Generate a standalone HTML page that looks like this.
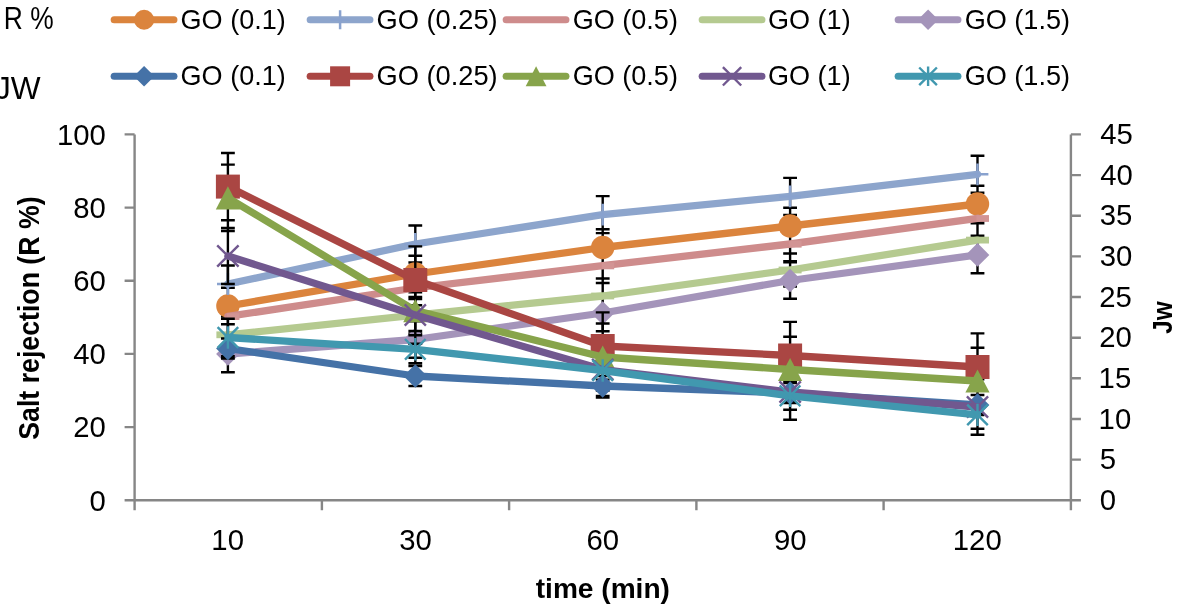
<!DOCTYPE html>
<html><head><meta charset="utf-8"><style>
html,body{margin:0;padding:0;background:#fff;width:1181px;height:607px;overflow:hidden}
svg{display:block;will-change:transform}
text{font-family:"Liberation Sans",sans-serif}
</style></head><body>
<svg width="1181" height="607" viewBox="0 0 1181 607" font-family='"Liberation Sans", sans-serif' fill="#000">
<path d="M134.6 134.4V510.3M1070.9 134.4V510.3M124.6 500.3H1080.9M124.6 500.3H134.6M124.6 427.1H134.6M124.6 353.9H134.6M124.6 280.8H134.6M124.6 207.6H134.6M124.6 134.4H134.6M1070.9 500.3H1080.9M1070.9 459.6H1080.9M1070.9 419.0H1080.9M1070.9 378.3H1080.9M1070.9 337.7H1080.9M1070.9 297.0H1080.9M1070.9 256.4H1080.9M1070.9 215.7H1080.9M1070.9 175.1H1080.9M1070.9 134.4H1080.9M321.9 500.3V510.3M509.1 500.3V510.3M696.4 500.3V510.3M883.6 500.3V510.3" stroke="#868686" stroke-width="2.4" fill="none"/>
<text x="89.56" y="510.50" font-size="29.3">0</text>
<text x="73.30" y="437.32" font-size="29.3">20</text>
<text x="73.30" y="364.14" font-size="29.3">40</text>
<text x="73.30" y="290.96" font-size="29.3">60</text>
<text x="73.30" y="217.78" font-size="29.3">80</text>
<text x="57.04" y="144.60" font-size="29.3">100</text>
<text x="1099.63" y="509.90" font-size="29.3">0</text>
<text x="1099.63" y="469.24" font-size="29.3">5</text>
<text x="1098.60" y="428.59" font-size="29.3">10</text>
<text x="1098.60" y="387.93" font-size="29.3">15</text>
<text x="1099.34" y="347.28" font-size="29.3">20</text>
<text x="1099.34" y="306.62" font-size="29.3">25</text>
<text x="1099.63" y="265.97" font-size="29.3">30</text>
<text x="1099.63" y="225.31" font-size="29.3">35</text>
<text x="1100.21" y="184.66" font-size="29.3">40</text>
<text x="1100.21" y="144.00" font-size="29.3">45</text>
<text x="211.35" y="550.10" font-size="29.3">10</text>
<text x="399.27" y="550.10" font-size="29.3">30</text>
<text x="586.52" y="550.10" font-size="29.3">60</text>
<text x="773.99" y="550.10" font-size="29.3">90</text>
<text x="952.82" y="550.10" font-size="29.3">120</text>
<text x="0" y="0" transform="translate(39.30 439.70) rotate(-90)" font-size="29.10" font-weight="bold" textLength="243.28" lengthAdjust="spacingAndGlyphs">Salt rejection (R %)</text>
<text x="0" y="0" transform="translate(1171.60 333.86) rotate(-90)" font-size="28.55" font-weight="bold" textLength="32.44" lengthAdjust="spacingAndGlyphs">Jw</text>
<text x="535.72" y="597.70" font-size="27.72" font-weight="bold" textLength="134.23" lengthAdjust="spacingAndGlyphs">time (min)</text>
<path d="M227.9 287.7V324.3M221.0 287.7H234.8M221.0 324.3H234.8M415.3 255.7V292.3M408.4 255.7H422.2M408.4 292.3H422.2M602.7 229.2V265.8M595.8 229.2H609.6M595.8 265.8H609.6M790.1 207.7V244.3M783.2 207.7H797.0M783.2 244.3H797.0M977.5 185.7V222.3M970.6 185.7H984.4M970.6 222.3H984.4M227.9 265.5V302.5M221.0 265.5H234.8M221.0 302.5H234.8M415.3 225.5V262.5M408.4 225.5H422.2M408.4 262.5H422.2M602.7 196.1V233.1M595.8 196.1H609.6M595.8 233.1H609.6M790.1 177.9V214.9M783.2 177.9H797.0M783.2 214.9H797.0M977.5 155.8V192.8M970.6 155.8H984.4M970.6 192.8H984.4M227.9 299.1V333.7M221.0 299.1H234.8M221.0 333.7H234.8M415.3 270.7V305.3M408.4 270.7H422.2M408.4 305.3H422.2M602.7 248.4V283.0M595.8 248.4H609.6M595.8 283.0H609.6M790.1 226.7V261.3M783.2 226.7H797.0M783.2 261.3H797.0M977.5 201.0V235.6M970.6 201.0H984.4M970.6 235.6H984.4M227.9 316.5V353.1M221.0 316.5H234.8M221.0 353.1H234.8M415.3 296.9V333.5M408.4 296.9H422.2M408.4 333.5H422.2M602.7 278.5V313.5M595.8 278.5H609.6M595.8 313.5H609.6M790.1 253.5V286.5M783.2 253.5H797.0M783.2 286.5H797.0M977.5 223.3V256.9M970.6 223.3H984.4M970.6 256.9H984.4M227.9 335.7V372.3M221.0 335.7H234.8M221.0 372.3H234.8M415.3 321.2V357.8M408.4 321.2H422.2M408.4 357.8H422.2M602.7 294.7V331.3M595.8 294.7H609.6M595.8 331.3H609.6M790.1 262.2V298.8M783.2 262.2H797.0M783.2 298.8H797.0M977.5 236.6V273.2M970.6 236.6H984.4M970.6 273.2H984.4" stroke="#000" stroke-width="2.4" fill="none"/>
<polyline points="227.9,306.0 415.3,274.0 602.7,247.5 790.1,226.0 977.5,204.0" fill="none" stroke="#DB843D" stroke-width="7.3" stroke-linejoin="round" stroke-linecap="round"/>
<circle cx="227.9" cy="306.0" r="11.7" fill="#DB843D"/>
<circle cx="415.3" cy="274.0" r="11.7" fill="#DB843D"/>
<circle cx="602.7" cy="247.5" r="11.7" fill="#DB843D"/>
<circle cx="790.1" cy="226.0" r="11.7" fill="#DB843D"/>
<circle cx="977.5" cy="204.0" r="11.7" fill="#DB843D"/>
<polyline points="227.9,284.0 415.3,244.0 602.7,214.6 790.1,196.4 977.5,174.3" fill="none" stroke="#8DA5CC" stroke-width="7.3" stroke-linejoin="round" stroke-linecap="round"/>
<path d="M217.0 284.0L238.8 284.0M227.9 273.1L227.9 294.9" stroke="#89A2CE" stroke-width="2.5" fill="none"/>
<path d="M404.4 244.0L426.2 244.0M415.3 233.1L415.3 254.9" stroke="#89A2CE" stroke-width="2.5" fill="none"/>
<path d="M591.8 214.6L613.6 214.6M602.7 203.7L602.7 225.5" stroke="#89A2CE" stroke-width="2.5" fill="none"/>
<path d="M779.2 196.4L801.0 196.4M790.1 185.5L790.1 207.3" stroke="#89A2CE" stroke-width="2.5" fill="none"/>
<path d="M966.6 174.3L988.4 174.3M977.5 163.4L977.5 185.2" stroke="#89A2CE" stroke-width="2.5" fill="none"/>
<polyline points="227.9,316.4 415.3,288.0 602.7,265.7 790.1,244.0 977.5,218.3" fill="none" stroke="#CE8C8C" stroke-width="7.3" stroke-linejoin="round" stroke-linecap="round"/>
<rect x="226.9" y="313.2" width="12.5" height="6.8" fill="#D29494"/>
<rect x="414.3" y="284.8" width="12.5" height="6.8" fill="#D29494"/>
<rect x="601.7" y="262.5" width="12.5" height="6.8" fill="#D29494"/>
<rect x="789.1" y="240.8" width="12.5" height="6.8" fill="#D29494"/>
<rect x="976.5" y="215.1" width="12.5" height="6.8" fill="#D29494"/>
<polyline points="227.9,334.8 415.3,315.2 602.7,296.0 790.1,270.0 977.5,240.1" fill="none" stroke="#B5CA90" stroke-width="7.3" stroke-linejoin="round" stroke-linecap="round"/>
<rect x="216.4" y="331.4" width="23.0" height="6.8" fill="#B5CA90"/>
<rect x="403.8" y="311.8" width="23.0" height="6.8" fill="#B5CA90"/>
<rect x="591.2" y="292.6" width="23.0" height="6.8" fill="#B5CA90"/>
<rect x="778.6" y="266.6" width="23.0" height="6.8" fill="#B5CA90"/>
<rect x="966.0" y="236.7" width="23.0" height="6.8" fill="#B5CA90"/>
<polyline points="227.9,354.0 415.3,339.5 602.7,313.0 790.1,280.5 977.5,254.9" fill="none" stroke="#A494BA" stroke-width="7.3" stroke-linejoin="round" stroke-linecap="round"/>
<path d="M227.9 342.2L239.7 354.0L227.9 365.8L216.1 354.0Z" fill="#A494BA"/>
<path d="M415.3 327.7L427.1 339.5L415.3 351.3L403.5 339.5Z" fill="#A494BA"/>
<path d="M602.7 301.2L614.5 313.0L602.7 324.8L590.9 313.0Z" fill="#A494BA"/>
<path d="M790.1 268.7L801.9 280.5L790.1 292.3L778.3 280.5Z" fill="#A494BA"/>
<path d="M977.5 243.1L989.3 254.9L977.5 266.7L965.7 254.9Z" fill="#A494BA"/>

<path d="M227.9 338.5V358.5M221.0 338.5H234.8M221.0 358.5H234.8M415.3 366.0V386.0M408.4 366.0H422.2M408.4 386.0H422.2M602.7 376.0V396.0M595.8 376.0H609.6M595.8 396.0H609.6M790.1 383.0V403.0M783.2 383.0H797.0M783.2 403.0H797.0M977.5 395.0V415.0M970.6 395.0H984.4M970.6 415.0H984.4M227.9 153.0V220.2M221.0 153.0H234.8M221.0 220.2H234.8M415.3 246.4V313.6M408.4 246.4H422.2M408.4 313.6H422.2M602.7 312.4V379.6M595.8 312.4H609.6M595.8 379.6H609.6M790.1 321.9V389.1M783.2 321.9H797.0M783.2 389.1H797.0M977.5 333.4V400.6M970.6 333.4H984.4M970.6 400.6H984.4M227.9 164.6V231.0M221.0 164.6H234.8M221.0 231.0H234.8M415.3 277.4V343.8M408.4 277.4H422.2M408.4 343.8H422.2M602.7 323.5V390.5M595.8 323.5H609.6M595.8 390.5H609.6M790.1 336.7V402.3M783.2 336.7H797.0M783.2 402.3H797.0M977.5 347.7V414.3M970.6 347.7H984.4M970.6 414.3H984.4M227.9 228.0V284.0M221.0 228.0H234.8M221.0 284.0H234.8M415.3 299.0V331.0M408.4 299.0H422.2M408.4 331.0H422.2M602.7 341.5V397.5M595.8 341.5H609.6M595.8 397.5H609.6M790.1 364.3V419.7M783.2 364.3H797.0M783.2 419.7H797.0M977.5 379.3V434.7M970.6 379.3H984.4M970.6 434.7H984.4M227.9 318.8V356.2M221.0 318.8H234.8M221.0 356.2H234.8M415.3 335.3V363.3M408.4 335.3H422.2M408.4 363.3H422.2M602.7 356.5V384.5M595.8 356.5H609.6M595.8 384.5H609.6M790.1 381.8V409.8M783.2 381.8H797.0M783.2 409.8H797.0M977.5 401.1V428.7M970.6 401.1H984.4M970.6 428.7H984.4" stroke="#000" stroke-width="2.4" fill="none"/>
<polyline points="227.9,348.5 415.3,376.0 602.7,386.0 790.1,393.0 977.5,405.0" fill="none" stroke="#4572A7" stroke-width="7.3" stroke-linejoin="round" stroke-linecap="round"/>
<path d="M227.9 336.7L239.7 348.5L227.9 360.3L216.1 348.5Z" fill="#4572A7"/>
<path d="M415.3 364.2L427.1 376.0L415.3 387.8L403.5 376.0Z" fill="#4572A7"/>
<path d="M602.7 374.2L614.5 386.0L602.7 397.8L590.9 386.0Z" fill="#4572A7"/>
<path d="M790.1 381.2L801.9 393.0L790.1 404.8L778.3 393.0Z" fill="#4572A7"/>
<path d="M977.5 393.2L989.3 405.0L977.5 416.8L965.7 405.0Z" fill="#4572A7"/>
<polyline points="227.9,186.6 415.3,280.0 602.7,346.0 790.1,355.5 977.5,367.0" fill="none" stroke="#AA4643" stroke-width="7.3" stroke-linejoin="round" stroke-linecap="round"/>
<rect x="215.9" y="174.6" width="24.0" height="24.0" fill="#AA4643"/>
<rect x="403.3" y="268.0" width="24.0" height="24.0" fill="#AA4643"/>
<rect x="590.7" y="334.0" width="24.0" height="24.0" fill="#AA4643"/>
<rect x="778.1" y="343.5" width="24.0" height="24.0" fill="#AA4643"/>
<rect x="965.5" y="355.0" width="24.0" height="24.0" fill="#AA4643"/>
<polyline points="227.9,197.8 415.3,310.6 602.7,357.0 790.1,369.5 977.5,381.0" fill="none" stroke="#87A44B" stroke-width="7.3" stroke-linejoin="round" stroke-linecap="round"/>
<path d="M227.9 186.2L240.0 209.4L215.8 209.4Z" fill="#87A44B"/>
<path d="M415.3 299.0L427.4 322.2L403.2 322.2Z" fill="#87A44B"/>
<path d="M602.7 345.4L614.8 368.6L590.6 368.6Z" fill="#87A44B"/>
<path d="M790.1 357.9L802.2 381.1L778.0 381.1Z" fill="#87A44B"/>
<path d="M977.5 369.4L989.6 392.6L965.4 392.6Z" fill="#87A44B"/>
<polyline points="227.9,256.0 415.3,315.0 602.7,369.5 790.1,392.0 977.5,407.0" fill="none" stroke="#71588F" stroke-width="7.3" stroke-linejoin="round" stroke-linecap="round"/>
<path d="M217.2 245.3L238.6 266.6M238.6 245.3L217.2 266.6" stroke="#71588F" stroke-width="2.4" fill="none"/>
<path d="M404.7 304.4L425.9 325.6M425.9 304.4L404.7 325.6" stroke="#71588F" stroke-width="2.4" fill="none"/>
<path d="M592.1 358.9L613.4 380.1M613.4 358.9L592.1 380.1" stroke="#71588F" stroke-width="2.4" fill="none"/>
<path d="M779.5 381.4L800.8 402.6M800.8 381.4L779.5 402.6" stroke="#71588F" stroke-width="2.4" fill="none"/>
<path d="M966.9 396.4L988.1 417.6M988.1 396.4L966.9 417.6" stroke="#71588F" stroke-width="2.4" fill="none"/>
<polyline points="227.9,337.5 415.3,349.3 602.7,370.5 790.1,395.8 977.5,414.9" fill="none" stroke="#4198AF" stroke-width="7.3" stroke-linejoin="round" stroke-linecap="round"/>
<path d="M217.6 327.2L238.2 347.8M238.2 327.2L217.6 347.8M227.9 326.3L227.9 348.7" stroke="#4198AF" stroke-width="2.4" fill="none"/>
<path d="M405.0 339.0L425.6 359.6M425.6 339.0L405.0 359.6M415.3 338.1L415.3 360.5" stroke="#4198AF" stroke-width="2.4" fill="none"/>
<path d="M592.4 360.2L613.0 380.8M613.0 360.2L592.4 380.8M602.7 359.3L602.7 381.7" stroke="#4198AF" stroke-width="2.4" fill="none"/>
<path d="M779.8 385.5L800.4 406.1M800.4 385.5L779.8 406.1M790.1 384.6L790.1 407.0" stroke="#4198AF" stroke-width="2.4" fill="none"/>
<path d="M967.2 404.6L987.8 425.2M987.8 404.6L967.2 425.2M977.5 403.7L977.5 426.1" stroke="#4198AF" stroke-width="2.4" fill="none"/>

<line x1="114.2" y1="19.7" x2="173.9" y2="19.7" stroke="#DB843D" stroke-width="7.1" stroke-linecap="round"/>
<circle cx="144.1" cy="19.7" r="10.0" fill="#DB843D"/>
<text x="180.55" y="28.80" font-size="27.31" textLength="105.20" lengthAdjust="spacingAndGlyphs">GO (0.1)</text>
<line x1="310.2" y1="19.7" x2="369.9" y2="19.7" stroke="#8DA5CC" stroke-width="7.1" stroke-linecap="round"/>
<path d="M330.6 19.7L349.6 19.7M340.1 10.2L340.1 29.2" stroke="#89A2CE" stroke-width="2.5" fill="none"/>
<text x="376.44" y="28.80" font-size="27.31" textLength="121.22" lengthAdjust="spacingAndGlyphs">GO (0.25)</text>
<line x1="506.2" y1="19.7" x2="565.9" y2="19.7" stroke="#CE8C8C" stroke-width="7.1" stroke-linecap="round"/>
<text x="572.65" y="28.80" font-size="27.31" textLength="105.30" lengthAdjust="spacingAndGlyphs">GO (0.5)</text>
<line x1="702.2" y1="19.7" x2="761.9" y2="19.7" stroke="#B5CA90" stroke-width="7.1" stroke-linecap="round"/>
<text x="768.05" y="28.80" font-size="27.31" textLength="82.59" lengthAdjust="spacingAndGlyphs">GO (1)</text>
<line x1="898.2" y1="19.7" x2="957.9" y2="19.7" stroke="#A494BA" stroke-width="7.1" stroke-linecap="round"/>
<path d="M928.1 9.4L938.4 19.7L928.1 30.0L917.8 19.7Z" fill="#A494BA"/>
<text x="964.65" y="28.80" font-size="27.31" textLength="105.41" lengthAdjust="spacingAndGlyphs">GO (1.5)</text>
<line x1="114.2" y1="76.3" x2="173.9" y2="76.3" stroke="#4572A7" stroke-width="7.1" stroke-linecap="round"/>
<path d="M144.1 66.0L154.4 76.3L144.1 86.6L133.8 76.3Z" fill="#4572A7"/>
<text x="180.55" y="84.80" font-size="27.31" textLength="105.20" lengthAdjust="spacingAndGlyphs">GO (0.1)</text>
<line x1="310.2" y1="76.3" x2="369.9" y2="76.3" stroke="#AA4643" stroke-width="7.1" stroke-linecap="round"/>
<rect x="330.1" y="66.3" width="20.0" height="20.0" fill="#AA4643"/>
<text x="376.44" y="84.80" font-size="27.31" textLength="121.22" lengthAdjust="spacingAndGlyphs">GO (0.25)</text>
<line x1="506.2" y1="76.3" x2="565.9" y2="76.3" stroke="#87A44B" stroke-width="7.1" stroke-linecap="round"/>
<path d="M536.1 66.3L546.5 86.3L525.7 86.3Z" fill="#87A44B"/>
<text x="572.65" y="84.80" font-size="27.31" textLength="105.30" lengthAdjust="spacingAndGlyphs">GO (0.5)</text>
<line x1="702.2" y1="76.3" x2="761.9" y2="76.3" stroke="#71588F" stroke-width="7.1" stroke-linecap="round"/>
<path d="M722.9 67.1L741.2 85.5M741.2 67.1L722.9 85.5" stroke="#71588F" stroke-width="2.4" fill="none"/>
<text x="768.05" y="84.80" font-size="27.31" textLength="82.59" lengthAdjust="spacingAndGlyphs">GO (1)</text>
<line x1="898.2" y1="76.3" x2="957.9" y2="76.3" stroke="#4198AF" stroke-width="7.1" stroke-linecap="round"/>
<path d="M919.2 67.5L936.9 85.1M936.9 67.5L919.2 85.1M928.1 66.6L928.1 86.0" stroke="#4198AF" stroke-width="2.4" fill="none"/>
<text x="964.65" y="84.80" font-size="27.31" textLength="105.41" lengthAdjust="spacingAndGlyphs">GO (1.5)</text>
<text x="3.79" y="28.70" font-size="30.86" textLength="49.81" lengthAdjust="spacingAndGlyphs">R %</text>
<text x="-5.10" y="98.7" font-size="31.6">JW</text>
</svg>
</body></html>
